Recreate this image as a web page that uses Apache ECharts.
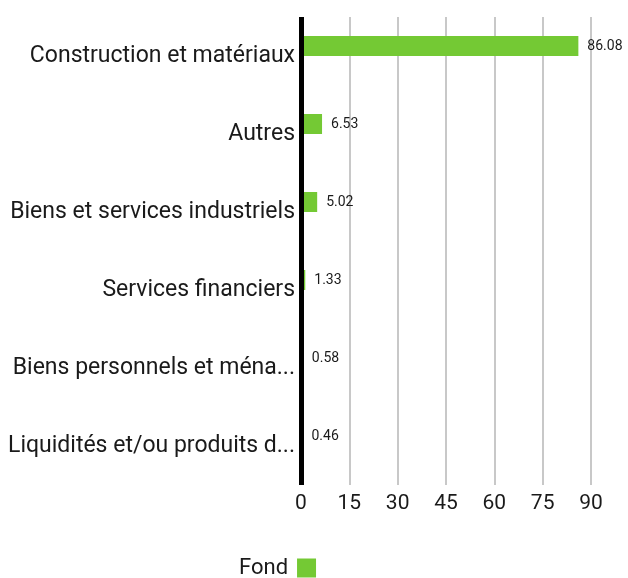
<!DOCTYPE html>
<html>
<head>
<meta charset="utf-8">
<script src="https://cdn.jsdelivr.net/npm/echarts@6/dist/echarts.min.js"></script>
<style>
  html, body { margin: 0; padding: 0; background: #fff; }
  #chart { width: 628px; height: 578px; }
</style>
</head>
<body>
<div id="chart"></div>
<script>
// secteurs (de haut en bas)
const categories = [
  'Construction et matériaux',
  'Autres',
  'Biens et services industriels',
  'Services financiers',
  'Biens personnels et ménagers',
  'Liquidités et/ou produits dérivés'
];
const fondValues = [86.08, 6.53, 5.02, 1.33, 0.58, 0.46];
// deuxième série vide : elle réserve seulement la place sous chaque barre
const emptyValues = [];
const xTicks = { min: 0, max: 90, interval: 15 };
const seriesName = 'Fond';

const chart = echarts.init(document.getElementById('chart'));

const option = {
  animation: false,
  textStyle: { fontFamily: 'Roboto' },
  grid: { left: 301, right: 37, top: 17, height: 468, containLabel: false },
  legend: {
    data: [seriesName],
    left: 234,
    top: 552,
    align: 'right',
    icon: 'rect',
    itemWidth: 19,
    itemHeight: 19,
    textStyle: { fontSize: 22, color: '#1a1a1a', padding: [0, 4, 0, 0] }
  },
  xAxis: {
    type: 'value',
    min: xTicks.min,
    max: xTicks.max,
    interval: xTicks.interval,
    axisLine: { show: false },
    axisTick: { show: false },
    axisLabel: { fontSize: 21, color: '#1a1a1a', margin: 8 },
    splitLine: { lineStyle: { color: '#c8c8c8', width: 2 } }
  },
  yAxis: {
    type: 'category',
    inverse: true,
    data: categories,
    z: 5,
    axisLine: { lineStyle: { color: '#000', width: 5, cap: 'butt' } },
    axisTick: { show: false },
    axisLabel: {
      fontSize: 23,
      color: '#1a1a1a',
      margin: 6,
      width: 292,
      overflow: 'truncate',
      ellipsis: '...'
    }
  },
  series: [{
    name: seriesName,
    type: 'bar',
    data: fondValues,
    barWidth: 20,
    barGap: '0%',
    itemStyle: { color: '#74c934' },
    label: {
      show: true,
      position: 'right',
      distance: 9,
      fontSize: 14,
      color: '#1a1a1a',
      formatter: p => p.value.toFixed(2)
    }
  }, {
    name: 'vide',
    type: 'bar',
    data: emptyValues,
    barWidth: 20,
    barGap: '0%'
  }]
};

chart.setOption(option);
</script>
</body>
</html>
